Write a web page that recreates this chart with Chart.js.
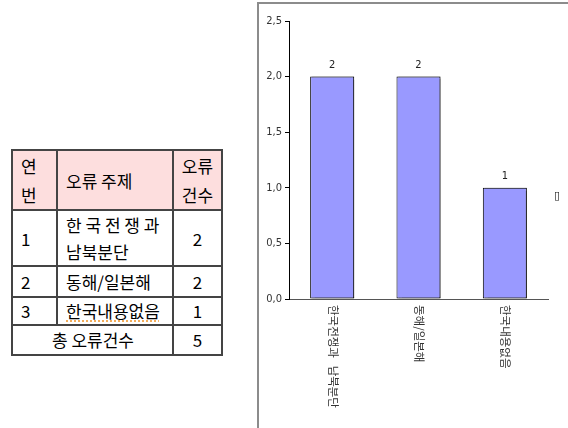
<!DOCTYPE html>
<html>
<head>
<meta charset="utf-8">
<script src="https://cdn.jsdelivr.net/npm/chart.js@4/dist/chart.umd.min.js"></script>
<style>
  html, body { margin: 0; padding: 0; background: #fff; }
  body { width: 568px; height: 428px; position: relative; overflow: hidden; font-family: "Noto Sans CJK KR", sans-serif; }
  #tabla { position: absolute; left: 11px; top: 149px; border-collapse: collapse; table-layout: fixed; font-size: 17px; color: #000; }
  #tabla td { border: 2px solid #444; padding: 0 7px 0 8px; line-height: 20px; vertical-align: middle; white-space: nowrap; }
  #tabla tr.cab td { background: #fddede; line-height: 29px; }
  #tabla tr.doble td { line-height: 27px; }
  #tabla td.num { text-align: center; padding: 0; }
  .subr { text-decoration: underline dotted #f0a040; text-underline-offset: 3px; }
  #marco { position: absolute; left: 257px; top: 2px; width: 311px; height: 426px; border-top: 2px solid #8c8c8c; border-left: 2px solid #8c8c8c; }
  #grafico1 { position: absolute; left: 0; top: 0; }
</style>
</head>
<body>

<table id="tabla">
  <colgroup><col style="width:45px"><col style="width:116px"><col style="width:49px"></colgroup>
  <tr class="cab" style="height:59px"><td>연<br>번</td><td>오류 주제</td><td class="num">오류<br>건수</td></tr>
  <tr class="doble" style="height:55px"><td>1</td><td>한 국 전 쟁 과<br>남북분단</td><td class="num">2</td></tr>
  <tr style="height:31px"><td>2</td><td>동해/일본해</td><td class="num">2</td></tr>
  <tr style="height:28px"><td>3</td><td><span class="subr">한국내용없음</span></td><td class="num">1</td></tr>
  <tr style="height:30px"><td colspan="2" style="text-align:center">총 오류건수</td><td class="num">5</td></tr>
</table>

<div id="marco"><canvas id="grafico1" width="309" height="424"></canvas></div>

<script>
// datos del grafico
var temas = ['한국전쟁과   남북분단', '동해/일본해', '한국내용없음'];
var errores = [2, 2, 1];
var ticksY = [0, 0.5, 1, 1.5, 2, 2.5];
var leyenda = ['▯'];

//--------------------------------------------------------------------------------------
// sombra de las barras
//--------------------------------------------------------------------------------------
var sombraBarras = {
  id: 'sombraBarras',
  beforeDatasetsDraw: function(chart){
    var ctx = chart.ctx;
    ctx.save();
    ctx.shadowColor = 'rgba(0,0,0,0.45)';
    ctx.shadowOffsetX = 2;
    ctx.shadowOffsetY = 0;
    ctx.shadowBlur = 1;
  },
  afterDatasetsDraw: function(chart){
    chart.ctx.restore();
  }
};

//--------------------------------------------------------------------------------------
// valores encima de las barras, etiquetas verticales y leyenda
//--------------------------------------------------------------------------------------
var textos = {
  id: 'textos',
  afterDraw: function(chart){
    var ctx = chart.ctx;
    var meta = chart.getDatasetMeta(0);
    ctx.save();
    ctx.fillStyle = '#222';
    ctx.font = '11px "Liberation Sans Narrow", "DejaVu Sans Condensed", sans-serif';
    ctx.textAlign = 'center';
    ctx.textBaseline = 'bottom';
    meta.data.forEach(function(bar, i){
      ctx.fillText(String(errores[i]), bar.x, bar.y - 6);
    });

    var xs = chart.scales.x;
    ctx.font = '11.5px "Noto Sans CJK KR", sans-serif';
    ctx.fillStyle = '#333';
    ctx.textAlign = 'left';
    ctx.textBaseline = 'middle';
    temas.forEach(function(t, i){
      ctx.save();
      ctx.translate(xs.getPixelForValue(i) + 1, xs.top + 6);
      ctx.rotate(Math.PI / 2);
      ctx.fillText(t, 0, 0);
      ctx.restore();
    });

    var area = chart.chartArea;
    ctx.font = '11px "DejaVu Sans", sans-serif';
    ctx.fillStyle = '#111';
    ctx.fillText(leyenda[0], area.right + 6, area.top + (area.bottom - area.top) * 0.63);
    ctx.restore();
  }
};

var grafErrores = function(){
  var ctx = document.getElementById('grafico1').getContext('2d');
  var miGrafico = new Chart(ctx, {
    type: 'bar',
    data: {
      labels: temas,
      datasets: [{
        data: errores,
        backgroundColor: '#9999ff',
        borderColor: '#000',
        borderWidth: 1,
        borderSkipped: false,
        barPercentage: 0.51,
        categoryPercentage: 1
      }]
    },
    options: {
      responsive: false,
      animation: false,
      layout: { padding: { top: 17, right: 20, left: 0, bottom: 0 } },
      plugins: {
        legend: { display: false },
        tooltip: { enabled: false }
      },
      scales: {
        x: {
          grid: { display: false },
          ticks: { display: false },
          border: { display: true, color: '#555', width: 1 },
          afterFit: function(s){ s.height = 129; }
        },
        y: {
          min: 0,
          max: 2.5,
          afterBuildTicks: function(s){ s.ticks = ticksY.map(function(v){ return { value: v }; }); },
          grid: { display: true, drawOnChartArea: false, drawTicks: true, tickLength: 4, color: '#000' },
          border: { display: true, color: '#000', width: 1 },
          ticks: {
            padding: 3,
            color: '#333',
            font: { family: '"Liberation Sans Narrow", "DejaVu Sans Condensed", sans-serif', size: 11 },
            callback: function(v){ return v.toFixed(1).replace('.', ','); }
          },
          afterFit: function(s){ s.width = 30; }
        }
      }
    },
    plugins: [sombraBarras, textos]
  });
};

grafErrores();
</script>
</body>
</html>
